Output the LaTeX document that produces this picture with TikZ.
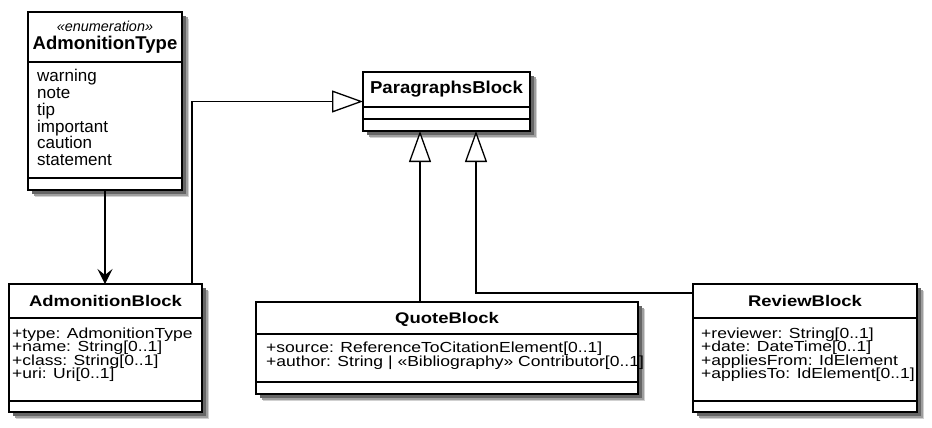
\documentclass[tikz,border=0pt]{standalone}
\usepackage{fontspec}
\setmainfont{Liberation Sans}
\newfontfamily\midfont[FakeStretch=1.08]{Liberation Sans}
\newfontfamily\lowfont[FakeStretch=1.2]{Liberation Sans}
\usetikzlibrary{arrows.meta,backgrounds}

\tikzset{
  frame/.style={draw=black, line width=2pt, fill=white, inner sep=0pt,
    outer sep=0pt, anchor=north west},
  sepline/.style={line width=1.5pt},
  attr/.style={anchor=base west, inner sep=0pt},
  title/.style={anchor=base, inner sep=0pt},
  topattr/.style={attr, font=\fontsize{17}{17}\selectfont},
  toptitle/.style={title, font=\fontsize{18.5}{18.5}\selectfont\bfseries},
  stereo/.style={title, font=\fontsize{14.4}{14.4}\selectfont\itshape},
  lowattr/.style={attr, font=\lowfont\fontsize{14.6}{14.6}\selectfont},
  lowtitle/.style={title, font=\lowfont\fontsize{15.4}{15.4}\selectfont\bfseries},
  midtitle/.style={title, font=\midfont\fontsize{17.2}{17.2}\selectfont\bfseries},
  assoc/.style={line width=1.3pt, -{Stealth[length=15pt, width=15pt, inset=6pt]}},
  gen/.style={line width=1.3pt,
    -{Triangle[length=31pt, width=22pt, fill=white, line width=1.3pt]}},
  shadowouter/.style={fill=black!18},
  shadowmid/.style={fill=black!38},
  shadowinner/.style={fill=black!60},
}

% soft drop shadow behind a named class box
\newcommand\umlshadow[1]{%
  \path[shadowouter] ([shift={(7,7)}]#1.north west) rectangle ([shift={(7,7)}]#1.south east);
  \path[shadowmid] ([shift={(5.5,5.5)}]#1.north west) rectangle ([shift={(5.5,5.5)}]#1.south east);
  \path[shadowinner] ([shift={(4,4)}]#1.north west) rectangle ([shift={(4,4)}]#1.south east);
}

\begin{document}
\begin{tikzpicture}[x=1pt, y=-1pt]
\useasboundingbox (0,0) rectangle (932,428);

% ---------- class frames ----------
\node[frame, minimum width=154pt, minimum height=178pt] (adt) at (28,12) {};
\node[frame, minimum width=193pt, minimum height=128pt] (adb) at (9,284) {};
\node[frame, minimum width=167pt, minimum height=59pt] (para) at (363,72) {};
\node[frame, minimum width=382pt, minimum height=92pt] (quote) at (256,302) {};
\node[frame, minimum width=224pt, minimum height=128pt] (review) at (693,284) {};

% ---------- page and shadows, behind the frames ----------
\begin{scope}[on background layer]
  \fill[white] (0,0) rectangle (932,428);
  \umlshadow{adt}
  \umlshadow{adb}
  \umlshadow{para}
  \umlshadow{quote}
  \umlshadow{review}
\end{scope}

% ---------- compartment separators ----------
\draw[sepline] (28,62) -- (182,62);
\draw[sepline] (28,178) -- (182,178);
\draw[sepline] (9,318) -- (202,318);
\draw[sepline] (9,401) -- (202,401);
\draw[sepline] (363,107) -- (530,107);
\draw[sepline] (363,119) -- (530,119);
\draw[sepline] (256,334) -- (638,334);
\draw[sepline] (256,382) -- (638,382);
\draw[sepline] (693,318) -- (917,318);
\draw[sepline] (693,401) -- (917,401);

% ---------- AdmonitionType ----------
\node[stereo] (adt-st) at (105,31.7) {«enumeration»};
\node[toptitle] (adt-t) at (105,50) {AdmonitionType};
\foreach \lit [count=\i] in {warning,note,tip,important,caution,statement}
  \node[topattr] (adt-\i) at (37,{81.7+(\i-1)*16.8}) {\lit};

% ---------- AdmonitionBlock ----------
\node[lowtitle] (adb-t) at (105.5,306) {AdmonitionBlock};
\foreach \a [count=\i] in {{+type: AdmonitionType},{+name: String[0..1]},
    {+class: String[0..1]},{+uri: Uri[0..1]}}
  \node[lowattr] (adb-\i) at (12,{338.3+(\i-1)*13.35}) {\a};

% ---------- ParagraphsBlock ----------
\node[midtitle] (para-t) at (446.5,93) {ParagraphsBlock};

% ---------- QuoteBlock ----------
\node[lowtitle] (quote-t) at (447,323) {QuoteBlock};
\node[lowattr] (quote-1) at (266,352) {+source: ReferenceToCitationElement[0..1]};
\node[lowattr] (quote-2) at (266,366) {+author: String | «Bibliography» Contributor[0..1]};

% ---------- ReviewBlock ----------
\node[lowtitle] (review-t) at (805,306) {ReviewBlock};
\foreach \a [count=\i] in {{+reviewer: String[0..1]},{+date: DateTime[0..1]},
    {+appliesFrom: IdElement},{+appliesTo: IdElement[0..1]}}
  \node[lowattr] (review-\i) at (701,{338.3+(\i-1)*13.35}) {\a};

% ---------- relations ----------
\coordinate (k1) at (192,0);
\coordinate (k2) at (420,0);
\coordinate (k3) at (476,293);

\draw[assoc] (adt.south) -- (adt.south |- adb.north);
\draw[gen] (adb.north -| k1) |- (para.west);
\draw[gen] (quote.north -| k2) -- (para.south -| k2);
\draw[gen] (review.west |- k3) -| (para.south -| k3);
\end{tikzpicture}
\end{document}
